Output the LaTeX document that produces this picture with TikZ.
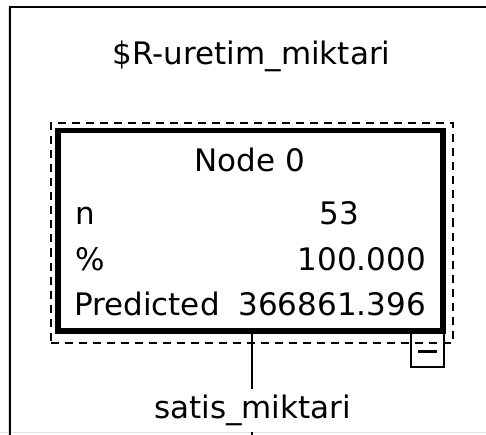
\documentclass[tikz,border=0pt]{standalone}
\usepackage{fontspec}
\setmainfont{DejaVu Sans}
\begin{document}
\begin{tikzpicture}[x=1pt,y=-1pt,
  txt/.style={inner sep=0pt,font=\fontsize{31}{37}\selectfont},
  frameline/.style={line width=2.5pt,black},
  selbox/.style={draw,dash pattern=on 8pt off 6pt,line width=2pt,inner sep=0pt,
    minimum width=402pt,minimum height=219pt},
  nodebox/.style={draw,line width=5.5pt,inner sep=0pt,
    minimum width=385pt,minimum height=200.5pt},
  togbox/.style={draw,line width=2.5pt,inner sep=0pt,
    minimum width=33pt,minimum height=35pt},
  conn/.style={line width=2pt}]
\useasboundingbox (0,0) rectangle (486,435);
\fill[white] (0,0) rectangle (486,435);
% outer frame
\draw[gray!25,line width=1pt] (0,432.5) -- (486,432.5);
\draw[gray!25,line width=1pt] (8,7) -- (8,435);
\draw[frameline] (10,435) -- (10,7) -- (486,7);
% title
\node[txt,anchor=base] (title) at (251.5,65) {\$R-uretim\_miktari};
% selection dashed box and node box
\node[selbox] (sel) at (252,233) {};
\node[nodebox] (box) at (250.5,230.75) {};
\node[togbox] (tog) at (427.5,349.5) {};
\draw[line width=3pt] ([xshift=-9.5pt,yshift=-1.5pt]tog.center) -- ([xshift=9.5pt,yshift=-1.5pt]tog.center);
% node texts
\node[txt,anchor=base] (head) at (250,172) {Node 0};
\node[txt,anchor=base west] (nlab) at (75,225) {n};
\node[txt,anchor=base east] (nval) at (359,225) {53};
\node[txt,anchor=base west] (plab) at (75,270) {\%};
\node[txt,anchor=base east] (pval) at (426,270) {100.000};
\node[txt,anchor=base west] (predlab) at (74,315) {Predicted};
\node[txt,anchor=base east] (predval) at (426,315) {366861.396};
% connector and split label
\coordinate (lineend) at (252,389);
\draw[conn] (box.south -| lineend) -- (lineend);
\node[txt,anchor=base] (split) at (252.5,418) {satis\_miktari};
\coordinate (tickend) at (252,435);
\draw[conn] (252,432) -- (tickend);
\end{tikzpicture}
\end{document}
